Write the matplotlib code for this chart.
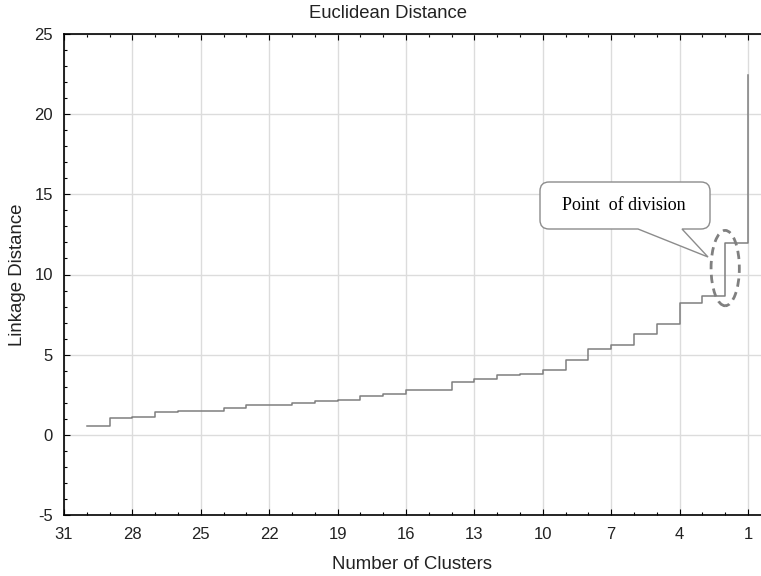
import matplotlib
matplotlib.use("Agg")
import matplotlib.pyplot as plt
from matplotlib.path import Path
from matplotlib.patches import PathPatch, Ellipse
from matplotlib.transforms import Affine2D
from matplotlib.ticker import MultipleLocator, FixedLocator

clusters = list(range(30, 0, -1))
linkage = [0.52, 1.08, 1.14, 1.41, 1.47, 1.48, 1.70, 1.87, 1.88, 2.00,
           2.10, 2.16, 2.43, 2.55, 2.80, 2.81, 3.27, 3.48, 3.71, 3.81,
           4.02, 4.65, 5.38, 5.63, 6.31, 6.94, 8.22, 8.65, 11.96, 22.45]
xticks = [31, 28, 25, 22, 19, 16, 13, 10, 7, 4, 1]
yticks = [-5, 0, 5, 10, 15, 20, 25]

W, H = 761, 576
fig = plt.figure(figsize=(W / 100, H / 100), dpi=100)
ax = fig.add_axes([64 / W, 1 - 515 / H, (761 - 64) / W, (515 - 34) / H])
plt.rcParams['font.family'] = ['Liberation Sans', 'DejaVu Sans']

ax.step(clusters, linkage, where='post', color='#7f7f7f', lw=1.1)

ax.set_xlim(31, 0.43)
ax.set_ylim(-5, 25)
ax.xaxis.set_major_locator(FixedLocator(xticks))
ax.xaxis.set_minor_locator(MultipleLocator(1))
ax.yaxis.set_major_locator(FixedLocator(yticks))
ax.yaxis.set_minor_locator(MultipleLocator(1))
ax.set_xticklabels([str(t) for t in xticks], family='Liberation Sans')
ax.set_yticklabels([str(t) for t in yticks], family='Liberation Sans')
ax.tick_params(which='both', direction='in', top=True, right=False,
               labelsize=12, colors='black', labelcolor='#222222')
ax.tick_params(which='major', length=4, width=0.8)
ax.tick_params(axis='x', which='major', pad=8.5)
ax.tick_params(axis='y', which='major', pad=8)
ax.tick_params(which='minor', length=2, width=0.8)
ax.grid(True, which='major', color='#dcdcdc', lw=1)
ax.set_axisbelow(True)
for s in ['left', 'bottom', 'top']:
    ax.spines[s].set_linewidth(1.2)
    ax.spines[s].set_color('black')
ax.spines['right'].set_visible(False)

fig.text(388 / W, 1 - 14 / H, 'Euclidean Distance', fontsize=13.3,
         family='Liberation Sans', color='#222222', ha='center', va='center')
ax.set_xlabel('Number of Clusters', fontsize=13.4, family='Liberation Sans',
              color='#222222', labelpad=10)
ax.set_ylabel('Linkage Distance', fontsize=13.4, family='Liberation Sans',
              color='#222222', labelpad=6)

# dashed ellipse marking the point of division
ell = Ellipse((2.0, 10.4), 1.24, 4.7, fill=False, edgecolor='#808080',
              lw=2, ls=(0, (3, 2)), zorder=4)
ax.add_patch(ell)

# callout box (pixel coordinates, y downward)
L, R, T, B, r = 540, 710, 182, 229, 9
verts = [(L + r, T), (R - r, T), (R, T), (R, T + r), (R, B - r), (R, B), (R - r, B),
         (682, B), (708, 257), (638, B), (L + r, B), (L, B), (L, B - r),
         (L, T + r), (L, T), (L + r, T), (L + r, T)]
codes = [Path.MOVETO, Path.LINETO, Path.CURVE3, Path.CURVE3, Path.LINETO,
         Path.CURVE3, Path.CURVE3, Path.LINETO, Path.LINETO, Path.LINETO,
         Path.LINETO, Path.CURVE3, Path.CURVE3, Path.LINETO, Path.CURVE3,
         Path.CURVE3, Path.CLOSEPOLY]
pix = Affine2D().scale(1, -1).translate(0, H)
patch = PathPatch(Path(verts, codes), facecolor='white', edgecolor='#8c8c8c',
                  lw=1, transform=pix, zorder=5)
fig.patches.append(patch)
fig.text(624 / W, 1 - 206 / H, 'Point  of division', family='Liberation Serif',
         fontsize=13, ha='center', va='center', color='black', zorder=6)

fig.savefig('out.png', dpi=100)
